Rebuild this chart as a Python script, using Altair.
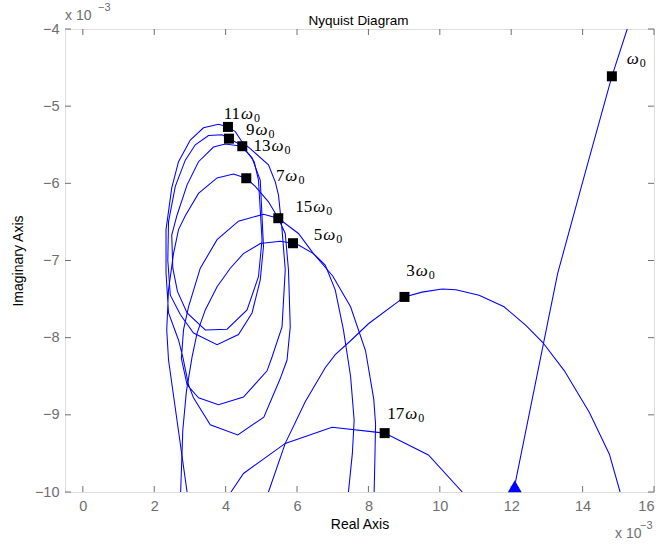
import altair as alt
import pandas as pd

# ---------------- data (Real / Imag, in units of 1e-3) ----------------
# w0 branch (through the omega_0 marker)
w1_x = [12.05, 12.12, 12.91, 13.30, 14.05, 14.82, 15.25]
w1_y = [-10.0, -9.87, -8.06, -7.17, -5.90, -4.613, -4.0]

# 3 w0 arc
w3_x = [15.05, 14.75, 14.19, 13.49, 12.88, 12.41, 11.80, 11.10, 10.45, 10.07, 9.50, 9.01, 8.00, 7.50, 7.07, 6.79, 6.23, 5.67, 5.20]
w3_y = [-10.0, -9.51, -8.97, -8.43, -8.06, -7.84, -7.60, -7.45, -7.38, -7.37, -7.41, -7.472, -7.82, -8.04, -8.22, -8.39, -8.83, -9.37, -10.0]

# 5 w0 loop
w5_x = [2.74, 2.80, 2.90, 3.06, 3.20, 3.43, 3.76, 4.13, 4.50, 4.97, 5.53, 5.887, 6.04, 6.46, 6.79, 7.07, 7.30, 7.50, 7.60, 7.55, 7.44]
w5_y = [-10.0, -9.20, -8.70, -8.25, -7.94, -7.64, -7.34, -7.10, -6.91, -6.78, -6.75, -6.776, -6.80, -6.91, -7.06, -7.38, -7.90, -8.50, -9.07, -9.50, -10.0]

# chain through 7, 11 and 15 w0
w7_x = [2.92, 2.40, 2.35, 2.40, 2.54, 2.68, 2.87, 3.24, 3.76, 4.22, 4.578, 4.83, 5.20, 5.475, 5.67, 5.76, 5.81, 5.72, 5.53, 5.07, 4.34, 3.57, 3.10, 2.96, 2.80,
        2.68, 2.40, 2.33, 2.33, 2.49, 2.68, 3.01, 3.38, 3.80, 4.065, 4.27, 4.47, 4.69, 5.20, 5.39, 5.48, 5.58, 5.67, 5.58, 5.30, 5.16, 4.50, 3.80, 3.24, 2.92,
        2.76, 2.82, 2.96, 3.29, 3.76, 4.36, 5.06, 5.475, 6.04, 6.46, 7.00, 7.50, 7.92, 8.15, 8.20, 8.18, 8.16]
w7_y = [-10.0, -8.29, -7.90, -7.38, -6.91, -6.60, -6.42, -6.13, -5.93, -5.88, -5.934, -6.04, -6.24, -6.452, -6.65, -7.12, -7.86, -8.29, -8.53, -9.03, -9.26, -9.13, -8.78, -8.61, -8.25,
        -8.03, -7.68, -7.16, -6.60, -6.06, -5.72, -5.44, -5.28, -5.235, -5.269, -5.33, -5.47, -5.55, -5.76, -5.98, -6.15, -6.60, -7.12, -7.86, -8.25, -8.43, -8.77, -8.87, -8.78, -8.61,
        -8.27, -7.90, -7.60, -7.10, -6.73, -6.49, -6.40, -6.452, -6.65, -6.91, -7.20, -7.60, -8.17, -8.80, -9.12, -9.60, -10.0]

# 9 w0 loop
w9_x = [4.093, 4.30, 4.466, 4.74, 4.97, 5.06, 4.97, 4.74, 4.36, 3.76, 3.10, 2.73, 2.45, 2.38, 2.40, 2.59, 2.87, 3.15, 3.52, 3.90, 4.093]
w9_y = [-5.421, -5.47, -5.53, -5.67, -5.96, -6.82, -7.25, -7.68, -7.96, -8.09, -7.94, -7.70, -7.45, -7.00, -6.50, -6.04, -5.70, -5.50, -5.38, -5.37, -5.421]

# 13 w0 loop
w13_x = [4.466, 4.65, 4.80, 4.92, 5.02, 4.92, 4.60, 4.04, 3.43, 2.92, 2.65, 2.52, 2.49, 2.64, 2.92, 3.24, 3.66, 3.99, 4.466]
w13_y = [-5.519, -5.62, -5.72, -5.96, -6.73, -7.21, -7.64, -7.89, -7.90, -7.68, -7.40, -7.10, -6.67, -6.41, -6.02, -5.72, -5.53, -5.49, -5.519]

# 17 w0 branch
w17_x = [4.15, 4.50, 5.67, 6.98, 8.455, 9.68, 10.63]
w17_y = [-10.0, -9.76, -9.37, -9.16, -9.237, -9.52, -10.0]

# harmonic markers
mk_n = ["", "3", "5", "7", "9", "11", "13", "15", "17"]
mk_x = [14.82, 9.01, 5.887, 4.578, 4.093, 4.065, 4.466, 5.475, 8.455]
mk_y = [-4.613, -7.472, -6.776, -5.934, -5.421, -5.269, -5.519, -6.452, -9.237]
# label anchors (end of the omega glyph)
lab_x = [15.57, 9.66, 7.07, 6.01, 5.17, 4.77, 5.62, 6.79, 9.37]
lab_y = [-4.453, -7.20, -6.733, -5.969, -5.373, -5.172, -5.580, -6.370, -9.052]

# direction arrow
arrow_x = [12.10]
arrow_y = [-9.925]

x_ticks = list(range(0, 17, 2))
y_ticks = list(range(-10, -3, 1))

# ---------------- build tables ----------------
segs = [("w1", w1_x, w1_y), ("w3", w3_x, w3_y), ("w5", w5_x, w5_y), ("w7", w7_x, w7_y),
        ("w9", w9_x, w9_y), ("w13", w13_x, w13_y), ("w17", w17_x, w17_y)]
rows = []
for name, xs, ys in segs:
    for i, (a, b) in enumerate(zip(xs, ys)):
        rows.append({"seg": name, "i": i, "re": a, "im": b})
curves = pd.DataFrame(rows)
markers = pd.DataFrame({"re": mk_x, "im": mk_y})
labels = pd.DataFrame({"re": lab_x, "im": lab_y, "n": mk_n, "w": ["ω"] * len(mk_n), "s": ["0"] * len(mk_n)})
arrow = pd.DataFrame({"re": arrow_x, "im": arrow_y})
xt = pd.DataFrame({"v": x_ticks})
yt = pd.DataFrame({"v": y_ticks})

W, H = 589, 463
GRAY = "#6e6e6e"
SANS = "Liberation Sans"
SERIF = "Liberation Serif"

xscale = alt.Scale(domain=[-0.5, 16], nice=False, zero=False)
yscale = alt.Scale(domain=[-10, -4], nice=False, zero=False)

X = alt.X("re:Q", scale=xscale, title="Real Axis",
          axis=alt.Axis(values=x_ticks, ticks=False, domain=False, grid=False, labelColor=GRAY,
                        labelFont=SANS, labelFontSize=14.5, labelPadding=7, titleFont=SANS,
                        titleFontSize=14, titleFontWeight="normal", titleColor="black", titlePadding=5))
Y = alt.Y("im:Q", scale=yscale, title="Imaginary Axis",
          axis=alt.Axis(values=y_ticks, ticks=False, domain=False, grid=False, labelColor=GRAY,
                        labelFont=SANS, labelFontSize=14.5, labelPadding=6,
                        labelExpr="replace(format(datum.value, 'd'), '-', '−')",
                        titleFont=SANS, titleFontSize=14, titleFontWeight="normal",
                        titleColor="black", titlePadding=9))

lines = alt.Chart(curves).mark_line(color="#0000ff", strokeWidth=1.05, clip=True).encode(
    x=X, y=Y, detail="seg:N", order="i:Q")

sq = alt.Chart(markers).mark_point(shape="square", filled=True, color="black", size=100, opacity=1).encode(
    x=alt.X("re:Q", scale=xscale), y=alt.Y("im:Q", scale=yscale))

tri = alt.Chart(arrow).mark_point(shape="triangle-up", filled=True, color="#0000ff", size=190, opacity=1).encode(
    x=alt.X("re:Q", scale=xscale), y=alt.Y("im:Q", scale=yscale))

t_num = alt.Chart(labels).mark_text(font=SERIF, fontSize=17, align="right", baseline="alphabetic", dx=-13, color="black").encode(
    x=alt.X("re:Q", scale=xscale), y=alt.Y("im:Q", scale=yscale), text="n:N")
t_w = alt.Chart(labels).mark_text(font=SERIF, fontSize=17, fontStyle="italic", align="right", baseline="alphabetic", color="black").encode(
    x=alt.X("re:Q", scale=xscale), y=alt.Y("im:Q", scale=yscale), text="w:N")
t_s = alt.Chart(labels).mark_text(font=SERIF, fontSize=12, align="left", baseline="alphabetic", dx=1, dy=3, color="black").encode(
    x=alt.X("re:Q", scale=xscale), y=alt.Y("im:Q", scale=yscale), text="s:N")

tk_color = "#707070"
xb = alt.Chart(xt).mark_rule(color=tk_color, strokeWidth=1).encode(
    x=alt.X("v:Q", scale=xscale), y=alt.value(H), y2=alt.value(H - 6))
xtop = alt.Chart(xt).mark_rule(color=tk_color, strokeWidth=1).encode(
    x=alt.X("v:Q", scale=xscale), y=alt.value(0), y2=alt.value(6))
yl = alt.Chart(yt).mark_rule(color=tk_color, strokeWidth=1).encode(
    y=alt.Y("v:Q", scale=yscale), x=alt.value(0), x2=alt.value(6))
yr = alt.Chart(yt).mark_rule(color=tk_color, strokeWidth=1).encode(
    y=alt.Y("v:Q", scale=yscale), x=alt.value(W), x2=alt.value(W - 6))

ann = pd.DataFrame({"t": ["x 10"], "e": ["−3"], "title": ["Nyquist Diagram"]})
title_txt = alt.Chart(ann).mark_text(font=SANS, fontSize=13.5, align="center", baseline="middle", color="black").encode(
    text="title:N", x=alt.value(W / 2 - 1), y=alt.value(-8))
exp_tl = alt.Chart(ann).mark_text(font=SANS, fontSize=14, align="left", baseline="middle", color=GRAY).encode(
    text="t:N", x=alt.value(0), y=alt.value(-13))
exp_tl2 = alt.Chart(ann).mark_text(font=SANS, fontSize=11, align="left", baseline="middle", color=GRAY).encode(
    text="e:N", x=alt.value(33), y=alt.value(-21))
exp_br = alt.Chart(ann).mark_text(font=SANS, fontSize=14, align="left", baseline="middle", color=GRAY).encode(
    text="t:N", x=alt.value(550), y=alt.value(505))
exp_br2 = alt.Chart(ann).mark_text(font=SANS, fontSize=11, align="left", baseline="middle", color=GRAY).encode(
    text="e:N", x=alt.value(575), y=alt.value(497))

chart = alt.layer(lines, xb, xtop, yl, yr, sq, tri, t_num, t_w, t_s, title_txt, exp_tl, exp_tl2, exp_br, exp_br2).properties(
    width=W, height=H,
    autosize=alt.AutoSizeParams(type="none"),
    padding={"left": 65, "top": 29, "right": 10, "bottom": 56},
).configure_view(stroke=tk_color, strokeWidth=1).configure(background="white")

chart.save("out.html", embed_options={"renderer": "svg", "actions": False})
